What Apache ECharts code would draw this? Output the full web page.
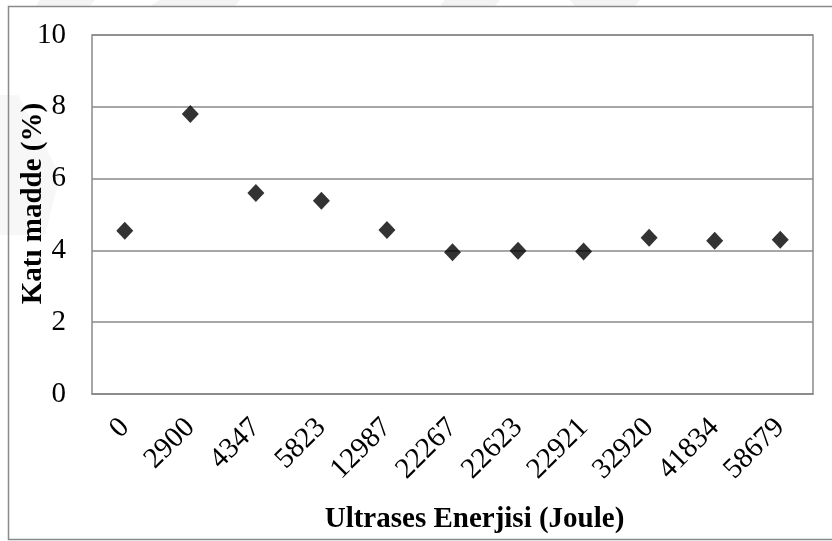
<!DOCTYPE html>
<html>
<head>
<meta charset="utf-8">
<script src="https://cdn.jsdelivr.net/npm/echarts@6/dist/echarts.min.js"></script>
<style>
  html, body { margin: 0; padding: 0; background: #ffffff; }
  #chart { width: 832px; height: 541px; }
</style>
</head>
<body>
<div id="chart"></div>
<script>
// Ultrasonic energy levels (J) and the measured solid content (%)
const energyLabels = ['0', '2900', '4347', '5823', '12987', '22267', '22623', '22921', '32920', '41834', '58679'];
const solidContent = [4.55, 7.8, 5.6, 5.38, 4.57, 3.95, 3.99, 3.97, 4.35, 4.27, 4.3];
const yTicks = [0, 2, 4, 6, 8, 10];

const xTitle = 'Ultrases Enerjisi (Joule)';
const yTitle = 'Katı madde (%)';

const SERIF = "'Liberation Serif', 'Times New Roman', serif";
const GRID_GRAY = '#8a8a8a';
const FONT_SIZE = 29;

const chart = echarts.init(document.getElementById('chart'), null, { renderer: 'canvas' });

chart.setOption({
  backgroundColor: '#ffffff',
  animation: false,
  graphic: [
    // faint background watermark bands
    {
      type: 'polygon', z: -10, silent: true,
      shape: { points: [[0, 95], [18, 95], [60, 175], [45, 235], [0, 235]] },
      style: { fill: '#f7f7f7' }
    },
    {
      type: 'polygon', z: -10, silent: true,
      shape: { points: [[40, 0], [95, 0], [90, 6], [36, 6]] },
      style: { fill: '#f3f3f3' }
    },
    {
      type: 'polygon', z: -10, silent: true,
      shape: { points: [[160, 0], [240, 0], [235, 6], [150, 6]] },
      style: { fill: '#f3f3f3' }
    },
    {
      type: 'polygon', z: -10, silent: true,
      shape: { points: [[445, 0], [500, 0], [495, 6], [440, 6]] },
      style: { fill: '#f3f3f3' }
    },
    {
      type: 'polygon', z: -10, silent: true,
      shape: { points: [[570, 0], [640, 0], [635, 6], [575, 6]] },
      style: { fill: '#f3f3f3' }
    },
    // chart area frame
    {
      type: 'rect', z: 10, silent: true,
      shape: { x: 8.5, y: 6.5, width: 840, height: 533 },
      style: { fill: 'none', stroke: GRID_GRAY, lineWidth: 1.5 }
    }
  ],
  grid: {
    left: 92,
    top: 35,
    width: 721,
    height: 359,
    outerBoundsMode: 'none',
    show: true,
    backgroundColor: 'transparent',
    borderColor: GRID_GRAY,
    borderWidth: 1.5
  },
  xAxis: {
    type: 'category',
    data: energyLabels,
    boundaryGap: true,
    name: xTitle,
    nameLocation: 'middle',
    nameGap: 111,
    nameMoveOverlap: false,
    nameTextStyle: {
      fontFamily: SERIF, fontSize: FONT_SIZE, fontWeight: 'bold', color: '#000',
      padding: [0, 0, 0, 44]
    },
    axisLine: { show: true, lineStyle: { color: GRID_GRAY, width: 1.5 } },
    axisTick: { show: false },
    axisLabel: {
      rotate: 45,
      margin: 29,
      interval: 0,
      fontFamily: SERIF,
      fontSize: FONT_SIZE,
      color: '#000'
    },
    splitLine: { show: false }
  },
  yAxis: {
    type: 'value',
    min: yTicks[0],
    max: yTicks[yTicks.length - 1],
    interval: yTicks[1] - yTicks[0],
    name: yTitle,
    nameLocation: 'middle',
    nameGap: 44,
    nameMoveOverlap: false,
    nameTextStyle: {
      fontFamily: SERIF, fontSize: FONT_SIZE, fontWeight: 'bold', color: '#000',
      padding: [0, 0, 0, 22]
    },
    axisLine: { show: false },
    axisTick: { show: false },
    axisLabel: {
      margin: 26,
      fontFamily: SERIF,
      fontSize: FONT_SIZE,
      color: '#000'
    },
    splitLine: { show: true, lineStyle: { color: GRID_GRAY, width: 1.5 } }
  },
  series: [
    {
      type: 'scatter',
      data: solidContent,
      symbol: 'diamond',
      symbolSize: [17, 18],
      itemStyle: { color: '#000000' },
      z: 5
    }
  ]
});
</script>
</body>
</html>
